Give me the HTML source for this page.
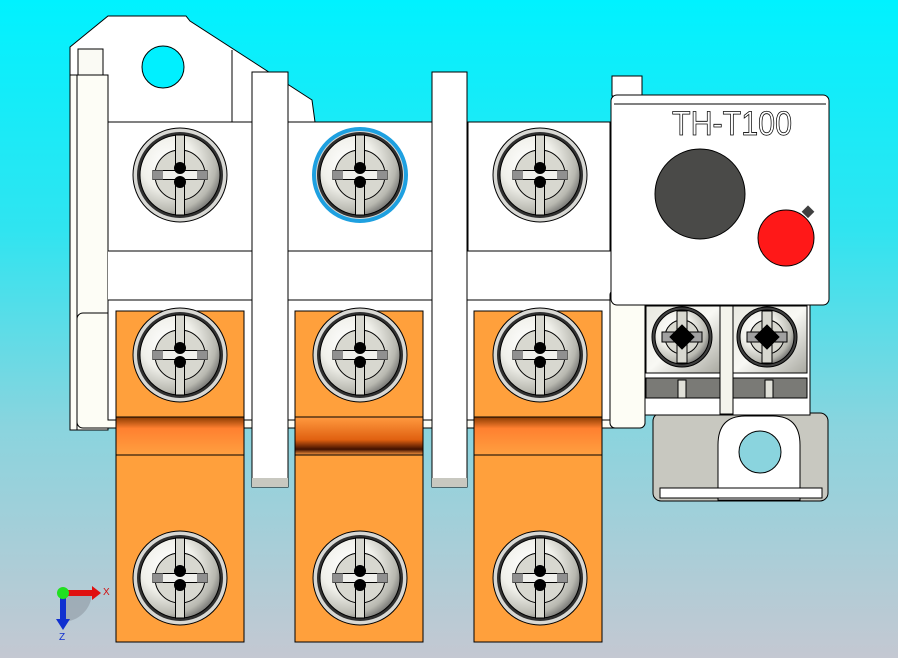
<!DOCTYPE html>
<html><head><meta charset="utf-8"><style>html,body{margin:0;padding:0;width:898px;height:658px;overflow:hidden}svg{display:block}</style></head><body>
<svg width="898" height="658" viewBox="0 0 898 658" xmlns="http://www.w3.org/2000/svg">
<defs>
<linearGradient id="bg" x1="0" y1="0" x2="0" y2="1">
<stop offset="0" stop-color="#00f2ff"/><stop offset="0.35" stop-color="#30e4f0"/><stop offset="0.65" stop-color="#8ad4de"/><stop offset="1" stop-color="#c4c8d2"/>
</linearGradient>
<radialGradient id="sh" cx="0.35" cy="0.35" r="0.75">
<stop offset="0" stop-color="#ffffff"/><stop offset="0.45" stop-color="#f0f0ea"/><stop offset="0.8" stop-color="#b8b8b0"/><stop offset="1" stop-color="#606060"/>
</radialGradient>
<linearGradient id="band1" x1="0" y1="0" x2="0" y2="1"><stop offset="0" stop-color="#8a3a00"/><stop offset="0.3" stop-color="#ff8030"/><stop offset="1" stop-color="#ffa040"/></linearGradient>
<linearGradient id="band2" x1="0" y1="0" x2="0" y2="1"><stop offset="0" stop-color="#ff9a40"/><stop offset="0.6" stop-color="#e06010"/><stop offset="0.85" stop-color="#401000"/><stop offset="1" stop-color="#ff9a40"/></linearGradient>
<linearGradient id="term" x1="0" y1="0" x2="1" y2="1"><stop offset="0" stop-color="#e8e8e0"/><stop offset="0.5" stop-color="#f8f8f4"/><stop offset="1" stop-color="#a8a8a0"/></linearGradient>
<g id="scr">
<circle r="47" fill="#d8d8d4" stroke="#000" stroke-width="1"/>
<circle r="43" fill="#303030"/>
<circle r="40" fill="url(#sh)" stroke="#000" stroke-width="1"/>
<circle r="25" fill="#d8d8d0" stroke="#000" stroke-width="1"/>
<rect x="-4.5" y="-40" width="9" height="80" fill="#d8d8d0" stroke="#000" stroke-width="1"/>
<rect x="-27" y="-4.5" width="54" height="9" fill="#f0f0ec" stroke="#000" stroke-width="1"/>
<rect x="-27" y="-4.5" width="10" height="9" fill="#909090"/>
<rect x="17" y="-4.5" width="10" height="9" fill="#909090"/>
<circle cx="0" cy="-7" r="6" fill="#000"/><circle cx="0" cy="7" r="6" fill="#000"/>
</g>
<g id="scs">
<circle r="30" fill="#404040" stroke="#000"/>
<circle r="27" fill="url(#sh)" stroke="#000"/>
<circle r="17" fill="#d8d8d0" stroke="#000"/>
<rect x="-5" y="-26" width="10" height="52" fill="#d8d8d0" stroke="#000"/>
<rect x="-20" y="-5" width="40" height="10" fill="#a0a0a0" stroke="#000"/>
<rect x="-9" y="-9" width="18" height="18" fill="#000" transform="rotate(45)"/>
</g>
</defs>
<rect width="898" height="658" fill="url(#bg)"/>

<!-- mounting plate -->
<path d="M70,47 L108,16 L186,16 L190,21 L312,100 L315,122 L108,122 L108,320 L70,320 Z" fill="#fff" stroke="#000"/>
<line x1="232" y1="50" x2="232" y2="122" stroke="#000"/>
<circle cx="163" cy="67" r="21" fill="#00f0ff" stroke="#000"/>
<rect x="78" y="49" width="25" height="26" fill="#fafaf4" stroke="#000"/>
<rect x="70" y="75" width="38" height="355" fill="#fdfdf6" stroke="#000"/>
<line x1="77" y1="75" x2="77" y2="430" stroke="#000"/>

<!-- main white body -->
<rect x="108" y="122" width="504" height="300" fill="#fff"/>
<rect x="77" y="313" width="568" height="115" rx="6" fill="#fdfdf5" stroke="#000"/>
<rect x="108" y="122" width="144" height="129" fill="#fff" stroke="#000"/>
<rect x="288" y="122" width="144" height="129" fill="#fff" stroke="#000"/>
<rect x="468" y="122" width="142" height="129" fill="#fff" stroke="#000"/>
<rect x="108" y="300" width="144" height="120" fill="#fff" stroke="#000"/>
<rect x="288" y="300" width="144" height="120" fill="#fff" stroke="#000"/>
<rect x="466" y="300" width="144" height="120" fill="#fff" stroke="#000"/>
<rect x="610" y="290" width="35" height="138" rx="5" fill="#fdfdf5" stroke="#000"/>

<!-- tabs -->
<rect x="252" y="72" width="36" height="415" fill="#fff" stroke="#000"/>
<rect x="432" y="72" width="35" height="415" fill="#fff" stroke="#000"/>
<rect x="252" y="478" width="36" height="9" fill="#c8c8c0"/>
<rect x="432" y="478" width="35" height="9" fill="#c8c8c0"/>

<!-- top screws -->
<use href="#scr" x="180" y="175"/>
<use href="#scr" x="360" y="175"/>
<circle cx="360" cy="175" r="46" fill="none" stroke="#1ea0e0" stroke-width="4"/>
<use href="#scr" x="540" y="175"/>

<!-- lugs -->
<g stroke="#000">
<rect x="116" y="311" width="128" height="331" fill="#ffa03c"/>
<rect x="295" y="311" width="128" height="331" fill="#ffa03c"/>
<rect x="474" y="311" width="128" height="331" fill="#ffa03c"/>
<rect x="116" y="417" width="128" height="38" fill="url(#band1)"/>
<rect x="295" y="417" width="128" height="38" fill="url(#band2)"/>
<rect x="474" y="417" width="128" height="38" fill="url(#band1)"/>
</g>
<use href="#scr" x="180" y="355"/><use href="#scr" x="360" y="355"/><use href="#scr" x="540" y="355"/>
<use href="#scr" x="180" y="578"/><use href="#scr" x="360" y="578"/><use href="#scr" x="540" y="578"/>

<!-- relay -->
<rect x="612" y="76" width="30" height="20" fill="#fff" stroke="#000"/>
<rect x="611" y="95" width="218" height="210" rx="6" fill="#fff" stroke="#000"/>
<line x1="614" y1="104" x2="826" y2="104" stroke="#000"/>
<text x="672" y="135" font-family="Liberation Sans Narrow, Liberation Sans, sans-serif" font-size="34" fill="#fff" stroke="#000" stroke-width="0.8" textLength="120" lengthAdjust="spacingAndGlyphs">TH-T100</text>
<circle cx="700" cy="194" r="45" fill="#4a4a48" stroke="#000"/>
<rect x="804" y="207" width="9" height="9" fill="#404040" transform="rotate(45 808 211)"/>
<circle cx="786" cy="238" r="28" fill="#ff1818" stroke="#000"/>

<!-- bracket -->
<rect x="653" y="413" width="175" height="88" rx="8" fill="#c8c8c0" stroke="#000"/>
<path d="M718,500 L718,445 Q718,416 745,416 L773,416 Q800,416 800,445 L800,500 Z" fill="#fff" stroke="#000"/>
<rect x="660" y="488" width="162" height="10" fill="#fff" stroke="#000"/>
<circle cx="760" cy="452" r="21" fill="#8ad4de" stroke="#000"/>

<!-- terminals -->
<rect x="645" y="305" width="165" height="110" fill="#fff" stroke="#000"/>
<rect x="646" y="306" width="74" height="67" fill="url(#term)" stroke="#000"/>
<rect x="733" y="306" width="74" height="67" fill="url(#term)" stroke="#000"/>
<rect x="646" y="378" width="74" height="20" fill="#7a7a76" stroke="#000"/>
<rect x="733" y="378" width="74" height="20" fill="#7a7a76" stroke="#000"/>
<rect x="720" y="306" width="13" height="108" fill="#f4f4ec" stroke="#000"/>
<rect x="678" y="380" width="8" height="18" fill="#e0e0d8" stroke="#000"/>
<rect x="765" y="380" width="8" height="18" fill="#e0e0d8" stroke="#000"/>
<use href="#scs" x="682" y="337"/>
<use href="#scs" x="767" y="337"/>

<!-- triad -->
<path d="M63,593 L63,622 A30,30 0 0 0 92,593 Z" fill="#909aa4" opacity="0.6"/>
<rect x="63" y="590" width="30" height="6" fill="#e01010"/>
<path d="M92,586 L101,593 L92,600 Z" fill="#e01010"/>
<rect x="60" y="593" width="6" height="28" fill="#1030d0"/>
<path d="M56,619 L63,630 L70,619 Z" fill="#1030d0"/>
<circle cx="63" cy="593" r="6" fill="#20e020"/>
<text x="103" y="595" font-family="Liberation Sans, sans-serif" font-size="10" fill="#d01010">X</text>
<text x="59" y="640" font-family="Liberation Sans, sans-serif" font-size="10" fill="#1030d0">Z</text>
</svg>
</body></html>
